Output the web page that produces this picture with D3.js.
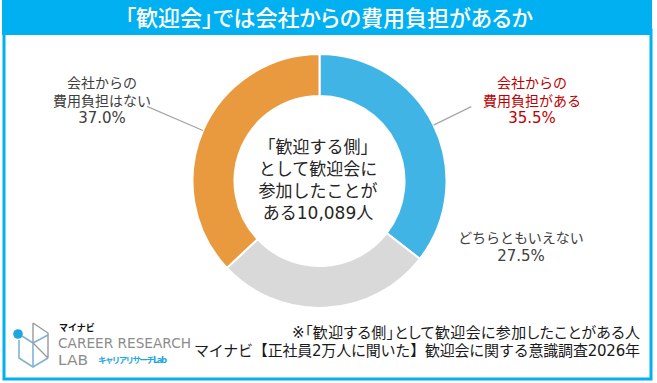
<!DOCTYPE html>
<html><head><meta charset="utf-8">
<script src="https://cdn.jsdelivr.net/npm/d3@7"></script>
<style>
html,body{margin:0;padding:0;background:#fff;}
svg{display:block;}
text{font-family:"DejaVu Sans","Noto Sans CJK JP",sans-serif;}
.palt{font-feature-settings:"palt" 1;}
</style></head>
<body><svg id="c" width="657" height="383"></svg>
<script>
const title = "「歓迎会」では会社からの費用負担があるか";
const categories = ["会社からの費用負担がある", "どちらともいえない", "会社からの費用負担はない"];
const values = [35.5, 27.5, 37.0];
const labelLines = [["会社からの", "費用負担がある", "35.5%"], ["どちらともいえない", "27.5%"], ["会社からの", "費用負担はない", "37.0%"]];
const colors = ["#41b4e6", "#d9d9d9", "#e99a3e"];
const centerLines = ["「歓迎する側」", "として歓迎会に", "参加したことが", "ある10,089人"];
const notes = ["※「歓迎する側」として歓迎会に参加したことがある人", "マイナビ【正社員2万人に聞いた】歓迎会に関する意識調査2026年"];

const svg = d3.select("#c");
const blue = "#00b0f0";

// frame
svg.append("rect").attr("x", 4).attr("y", 30).attr("width", 647).attr("height", 349)
  .attr("fill", "#fff").attr("stroke", blue).attr("stroke-width", 3);
svg.append("rect").attr("x", 2).attr("y", 0).attr("width", 650).attr("height", 35).attr("fill", blue);
svg.append("text").attr("class", "palt").attr("x", 329).attr("y", 18).attr("text-anchor", "middle").attr("dominant-baseline", "central")
  .attr("fill", "#fff").attr("font-size", 22).attr("font-family", "'Noto Sans CJK JP'").attr("font-weight", 500)
  .text(title);

// donut
const cx = 319.5, cy = 181, rO = 127, rI = 85;
const g = svg.append("g").attr("transform", `translate(${cx},${cy})`);
const pie = d3.pie().sort(null).value(d => d)(values);
const arc = d3.arc().innerRadius(rI).outerRadius(rO);
g.selectAll("path.s").data(pie).join("path").attr("class", "s")
  .attr("d", arc).attr("fill", (d, i) => colors[i]).attr("stroke", "#fff").attr("stroke-width", 2);

// leaders
const leaderLen = [42, null, 61];
pie.forEach((d, i) => {
  if (!leaderLen[i]) return;
  const a = (d.startAngle + d.endAngle) / 2;
  const p1 = [Math.sin(a) * rO, -Math.cos(a) * rO];
  const p2 = [Math.sin(a) * (rO + leaderLen[i]), -Math.cos(a) * (rO + leaderLen[i])];
  g.append("line").attr("x1", p1[0]).attr("y1", p1[1]).attr("x2", p2[0]).attr("y2", p2[1])
    .attr("stroke", "#a6a6a6").attr("stroke-width", 1.2);
});

// labels
const labelPos = [[532, 83], [521, 238], [102, 83]];
const labelColor = ["#c00000", "#404040", "#404040"];
labelLines.forEach((lines, i) => {
  const t = svg.append("text").attr("text-anchor", "middle").attr("fill", labelColor[i]).attr("font-size", 14);
  lines.forEach((s, j) => {
    t.append("tspan").attr("x", labelPos[i][0]).attr("y", labelPos[i][1] + j * 17.5)
      .attr("font-size", j === lines.length - 1 ? 15 : 14)
      .attr("dominant-baseline", "central").text(s);
  });
});

// center text
const ct = svg.append("text").attr("text-anchor", "middle").attr("fill", "#262626").attr("font-size", 17);
centerLines.forEach((s, j) => {
  ct.append("tspan").attr("x", 318).attr("y", 147 + j * 22).attr("dominant-baseline", "central").text(s);
});

// notes
const noteLen = [348, 446];
notes.forEach((s, j) => {
  svg.append("text").attr("class", j === 0 ? "palt" : null).attr("x", 640 - noteLen[j]).attr("y", 333 + j * 17.5)
    .attr("textLength", noteLen[j]).attr("lengthAdjust", "spacing")
    .attr("dominant-baseline", "central").attr("fill", "#1a1a1a").attr("font-size", 15).text(s);
});

// logo
const lg = svg.append("g");
const lineC = "#7fb3d5", grayC = "#9a9a9a";
lg.append("path").attr("d", "M19,340 L19,358 L33,367 L48,358").attr("fill", "none").attr("stroke", lineC).attr("stroke-width", 1.6);
lg.append("path").attr("d", "M22,336 L33,343 L48,335 M33,343 L33,367").attr("fill", "none").attr("stroke", lineC).attr("stroke-width", 1.6);
lg.append("path").attr("d", "M33,323 L48,333 L48,358 M33,343 L48,358 M33,323 L33,343").attr("fill", "none").attr("stroke", grayC).attr("stroke-width", 1.4);
lg.append("circle").attr("cx", 18).attr("cy", 334).attr("r", 4.8).attr("fill", "#1ea7df");
lg.append("text").attr("x", 59).attr("y", 328).attr("dominant-baseline", "central").attr("font-size", 9)
  .attr("font-weight", 700).attr("fill", "#111").attr("font-family", "'Noto Sans CJK JP'").text("マイナビ");
lg.append("text").attr("x", 58).attr("y", 343).attr("dominant-baseline", "central").attr("font-size", 13.5)
  .attr("fill", "#8c8c8c").attr("font-family", "Lato,'Noto Sans'").attr("textLength", 133).attr("lengthAdjust", "spacingAndGlyphs").text("CAREER RESEARCH");
lg.append("text").attr("x", 58).attr("y", 360).attr("dominant-baseline", "central").attr("font-size", 13.5)
  .attr("fill", "#8c8c8c").attr("font-family", "Lato,'Noto Sans'").attr("textLength", 30).attr("lengthAdjust", "spacingAndGlyphs").text("LAB");
lg.append("text").attr("x", 98).attr("y", 360).attr("dominant-baseline", "central").attr("font-size", 8.5)
  .attr("font-weight", 700).attr("fill", "#1ea7df").attr("font-family", "'Noto Sans CJK JP'").attr("textLength", 69).text("キャリアリサーチLab");
</script></body></html>
